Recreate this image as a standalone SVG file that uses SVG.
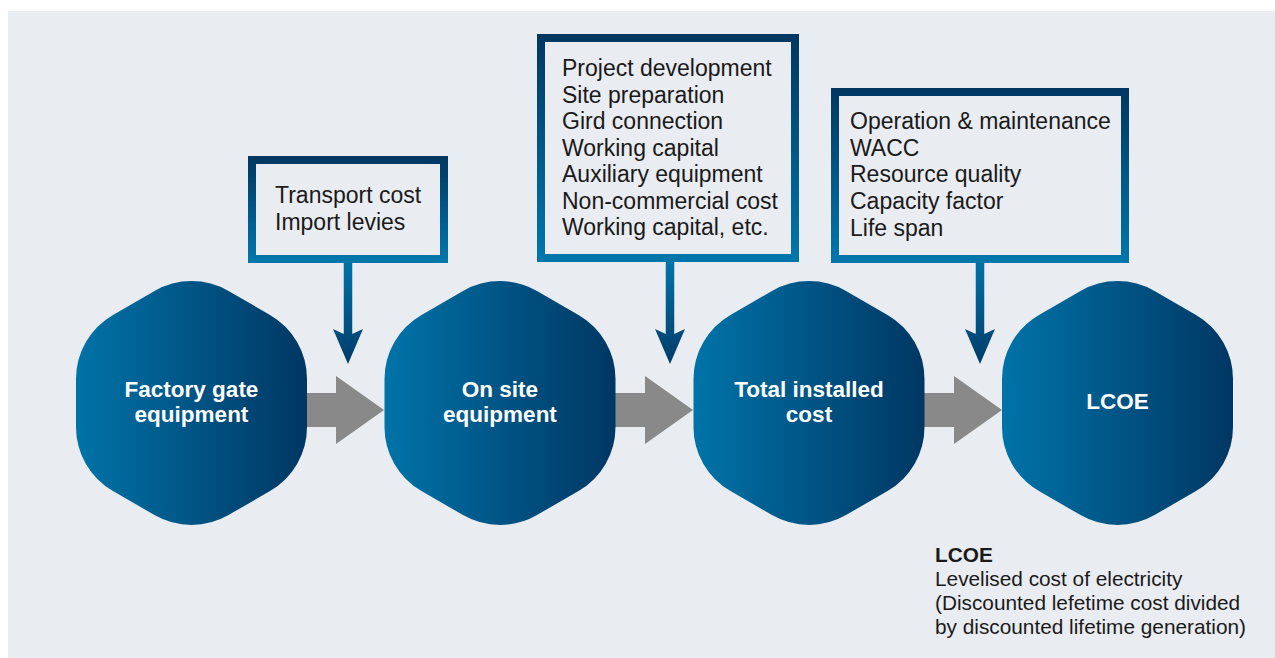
<svg xmlns="http://www.w3.org/2000/svg" width="1275" height="658" viewBox="0 0 1275 658">
  <defs>
    <linearGradient id="hexGrad" x1="0" y1="0" x2="1" y2="0">
      <stop offset="0" stop-color="#0073a8"/>
      <stop offset="1" stop-color="#003763"/>
    </linearGradient>
    <linearGradient id="boxGrad" x1="0" y1="0" x2="0" y2="1">
      <stop offset="0" stop-color="#003862"/>
      <stop offset="1" stop-color="#0076ab"/>
    </linearGradient>
    <linearGradient id="downGrad" x1="0" y1="0" x2="0" y2="1">
      <stop offset="0" stop-color="#0074a9"/>
      <stop offset="1" stop-color="#003c69"/>
    </linearGradient>
    <path id="hex" d="M -37,-112.04 A 74 74 0 0 1 37,-112.04 L 78.5,-88.06 A 74 74 0 0 1 115.5,-23.98 L 115.5,23.98 A 74 74 0 0 1 78.5,88.06 L 37,112.04 A 74 74 0 0 1 -37,112.04 L -78.5,88.06 A 74 74 0 0 1 -115.5,23.98 L -115.5,-23.98 A 74 74 0 0 1 -78.5,-88.06 Z"/>
    <style>
      .hexshape { fill: url(#hexGrad); }
      .hexlabel { font-family: "Liberation Sans", Arial, sans-serif; font-weight: bold; font-size: 22.5px; fill: #ffffff; text-anchor: middle; }
      .box { fill: #e9ecf1; stroke: url(#boxGrad); stroke-width: 8; }
      .boxtext { font-family: "Liberation Sans", Arial, sans-serif; font-size: 23px; fill: #1a1a1a; }
      .down { fill: url(#downGrad); }
      .flow { fill: #898989; }
      .note { font-family: "Liberation Sans", Arial, sans-serif; font-size: 20.8px; fill: #1a1a1a; }
    </style>
  </defs>

  <rect x="8" y="11" width="1267" height="647" fill="#e9ecf1"/>

  <g id="connectors">
    <path class="flow" d="M 300,393 H 336 V 376 L 384,410 L 336,444 V 427 H 300 Z"/>
    <path class="flow" d="M 609,393 H 645 V 376 L 693,410 L 645,444 V 427 H 609 Z"/>
    <path class="flow" d="M 917,393 H 954 V 376 L 1002,410 L 954,444 V 427 H 917 Z"/>
    <path class="down" d="M 343.75,260 H 352.25 V 334 L 363,329 L 348,364 L 333,329 L 343.75,334 Z"/>
    <path class="down" d="M 665.75,260 H 674.25 V 334 L 685,329 L 670,364 L 655,329 L 665.75,334 Z"/>
    <path class="down" d="M 975.75,260 H 984.25 V 334 L 995,329 L 980,364 L 965,329 L 975.75,334 Z"/>
  </g>

  <g id="node-factory">
    <use href="#hex" class="hexshape" transform="translate(191.5,403)"/>
    <text class="hexlabel" x="191.5" y="397">Factory gate</text>
    <text class="hexlabel" x="191.5" y="422">equipment</text>
  </g>
  <g id="node-onsite">
    <use href="#hex" class="hexshape" transform="translate(500,403)"/>
    <text class="hexlabel" x="500" y="397">On site</text>
    <text class="hexlabel" x="500" y="422">equipment</text>
  </g>
  <g id="node-installed">
    <use href="#hex" class="hexshape" transform="translate(809,403)"/>
    <text class="hexlabel" x="809" y="397">Total installed</text>
    <text class="hexlabel" x="809" y="422">cost</text>
  </g>
  <g id="node-lcoe">
    <use href="#hex" class="hexshape" transform="translate(1117.5,403)"/>
    <text class="hexlabel" x="1117.5" y="409">LCOE</text>
  </g>

  <g id="box-transport">
    <rect class="box" x="252" y="160" width="192" height="99"/>
    <text class="boxtext" x="275" y="203">Transport cost</text>
    <text class="boxtext" x="275" y="230">Import levies</text>
  </g>
  <g id="box-project">
    <rect class="box" x="541" y="38" width="254" height="220"/>
    <text class="boxtext" x="562" y="76">Project development</text>
    <text class="boxtext" x="562" y="102.5">Site preparation</text>
    <text class="boxtext" x="562" y="129">Gird connection</text>
    <text class="boxtext" x="562" y="155.5">Working capital</text>
    <text class="boxtext" x="562" y="182">Auxiliary equipment</text>
    <text class="boxtext" x="562" y="208.5">Non-commercial cost</text>
    <text class="boxtext" x="562" y="235">Working capital, etc.</text>
  </g>
  <g id="box-operation">
    <rect class="box" x="835" y="92" width="290" height="167"/>
    <text class="boxtext" x="850" y="128.5">Operation &amp; maintenance</text>
    <text class="boxtext" x="850" y="155.5">WACC</text>
    <text class="boxtext" x="850" y="182">Resource quality</text>
    <text class="boxtext" x="850" y="209">Capacity factor</text>
    <text class="boxtext" x="850" y="236">Life span</text>
  </g>

  <g id="note">
    <text class="note" x="935" y="562" font-weight="bold">LCOE</text>
    <text class="note" x="935" y="586">Levelised cost of electricity</text>
    <text class="note" x="935" y="610">(Discounted lefetime cost divided</text>
    <text class="note" x="935" y="634">by discounted lifetime generation)</text>
  </g>
</svg>
